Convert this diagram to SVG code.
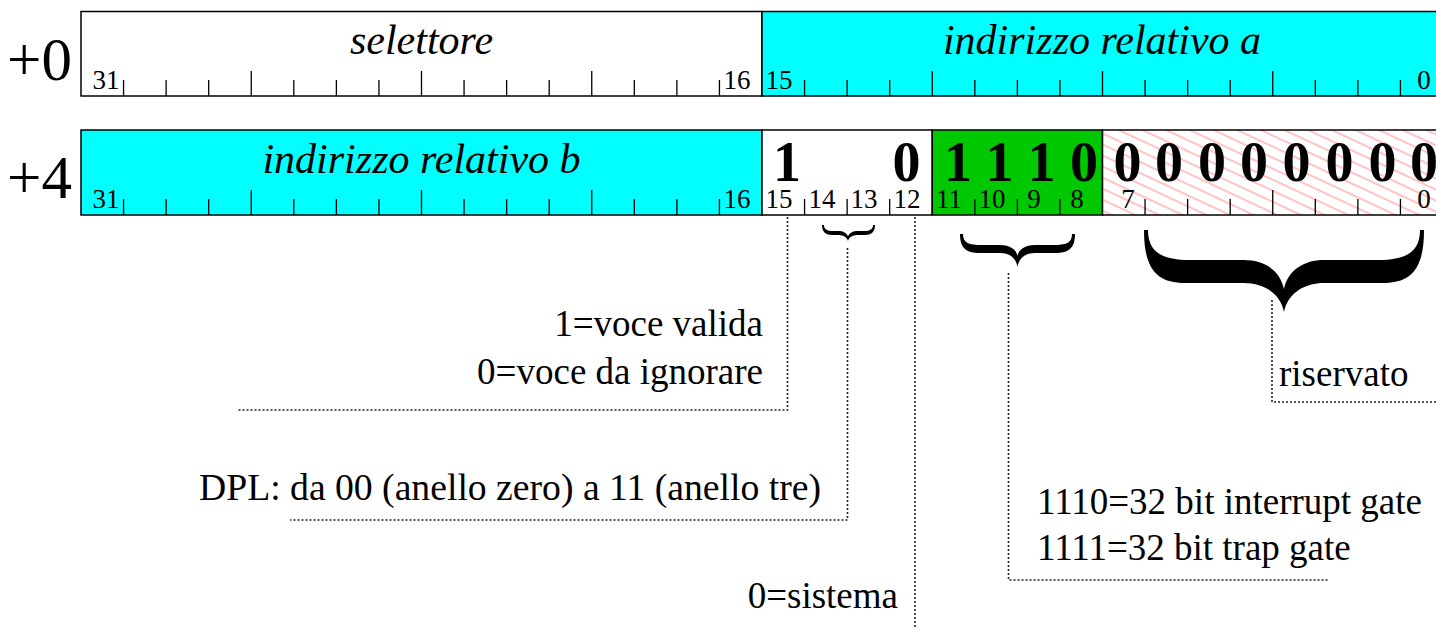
<svg xmlns="http://www.w3.org/2000/svg" width="1436" height="628" viewBox="0 0 1436 628">
<style>
.box{stroke:#000;stroke-width:1.5}
.tick{stroke:#000;stroke-width:1.3;fill:none}
.off{font-family:"Liberation Serif",serif;font-size:61px}
.fld{font-family:"Liberation Serif",serif;font-size:42px;font-style:italic;text-anchor:middle}
.bit{font-family:"Liberation Serif",serif;font-size:27px;text-anchor:middle}
.big{font-family:"Liberation Serif",serif;font-size:56px;font-weight:bold;text-anchor:middle}
.note{font-family:"Liberation Serif",serif;font-size:37px}
.r{text-anchor:end}
.lead{stroke:#222;stroke-width:1.6;stroke-dasharray:2 2;fill:none}
.brace{fill:#000}
</style>
<defs>
<pattern id="hatch" patternUnits="userSpaceOnUse" width="10" height="10" patternTransform="rotate(25)">
<rect width="10" height="10" fill="#fff"/>
<line x1="0" y1="5" x2="10" y2="5" stroke="#ff9a9a" stroke-width="1.2"/>
</pattern>
</defs>
<rect width="1436" height="628" fill="#fff"/>

<g id="row0">
<text class="off" x="7" y="80">+0</text>
<rect class="box" x="81" y="11.5" width="681" height="84.5" fill="#fff"/>
<rect class="box" x="762" y="11.5" width="681" height="84.5" fill="#00ffff"/>
<text class="fld" x="421.5" y="54">selettore</text>
<text class="fld" x="1102" y="54">indirizzo relativo a</text>
<path class="tick" d="M123.56 80V96M166.13 80V96M208.69 80V96M251.25 71V96M293.81 80V96M336.38 80V96M378.94 80V96M421.5 71V96M464.06 80V96M506.63 80V96M549.19 80V96M591.75 71V96M634.31 80V96M676.88 80V96M719.44 80V96M804.56 80V96M847.13 80V96M889.69 80V96M932.25 71V96M974.81 80V96M1017.38 80V96M1059.94 80V96M1102.5 71V96M1145.06 80V96M1187.63 80V96M1230.19 80V96M1272.75 71V96M1315.31 80V96M1357.88 80V96M1400.44 80V96"/>
<text class="bit" x="106" y="89">31</text>
<text class="bit" x="737" y="89">16</text>
<text class="bit" x="779" y="89">15</text>
<text class="bit" x="1424" y="89">0</text>
</g>

<g id="row4">
<text class="off" x="7" y="198">+4</text>
<rect class="box" x="81" y="130" width="681" height="85" fill="#00ffff"/>
<rect class="box" x="762" y="130" width="170.25" height="85" fill="#fff"/>
<rect class="box" x="932.25" y="130" width="170.25" height="85" fill="#00c800"/>
<rect class="box" x="1102.5" y="130" width="340.5" height="85" fill="url(#hatch)"/>
<text class="fld" x="421.5" y="173">indirizzo relativo b</text>
<path class="tick" d="M123.56 199V215M166.13 199V215M208.69 199V215M251.25 190V215M293.81 199V215M336.38 199V215M378.94 199V215M421.5 190V215M464.06 199V215M506.63 199V215M549.19 199V215M591.75 190V215M634.31 199V215M676.88 199V215M719.44 199V215M804.56 199V215M847.13 199V215M889.69 199V215M974.81 199V215M1017.38 199V215M1059.94 199V215M1145.06 199V215M1187.63 199V215M1230.19 199V215M1272.75 190V215M1315.31 199V215M1357.88 199V215M1400.44 199V215"/>
<text class="big" x="787" y="181">1</text>
<text class="big" x="906.5" y="181">0</text>
<text class="big" x="958" y="181">1</text>
<text class="big" x="999.5" y="181">1</text>
<text class="big" x="1041.5" y="181">1</text>
<text class="big" x="1084" y="181">0</text>
<text class="big" x="1127.5" y="181">0</text>
<text class="big" x="1169" y="181">0</text>
<text class="big" x="1212" y="181">0</text>
<text class="big" x="1254" y="181">0</text>
<text class="big" x="1296.5" y="181">0</text>
<text class="big" x="1339.5" y="181">0</text>
<text class="big" x="1382.5" y="181">0</text>
<text class="big" x="1424" y="181">0</text>
<text class="bit" x="106" y="208">31</text>
<text class="bit" x="737" y="208">16</text>
<text class="bit" x="779" y="208">15</text>
<text class="bit" x="822" y="208">14</text>
<text class="bit" x="864" y="208">13</text>
<text class="bit" x="907" y="208">12</text>
<text class="bit" x="949" y="208">11</text>
<text class="bit" x="992" y="208">10</text>
<text class="bit" x="1034" y="208">9</text>
<text class="bit" x="1077" y="208">8</text>
<text class="bit" x="1128" y="208">7</text>
<text class="bit" x="1424" y="208">0</text>
</g>

<g id="braces">
<path class="brace" d="M822 225C822 232 826 235 832 235L838 235C843 235 847 237 848 241C849 237 853 235 858 235L865 235C871 235 875 232 875 225L873 225C873 229 870 231 864 231L858 231C853 231 849 233 848 236.5C847 233 843 231 838 231L833 231C827 231 824 229 824 225Z"/>
<path class="brace" d="M960 234C960 248 966 253 980 253L1000 253C1010 253 1016 258 1017.5 267C1019 258 1025 253 1035 253L1055 253C1069 253 1075 248 1075 234L1072 234C1072 243 1066 245 1053 245L1035 245C1025 245 1019 249 1017.5 256C1016 249 1010 245 1000 245L982 245C969 245 963 243 963 234Z"/>
<path class="brace" d="M1144 230C1144 268 1156 283 1185 283L1244 283C1262 283 1280 292 1284 312C1288 292 1306 283 1324 283L1383 283C1412 283 1424 268 1424 230L1420 230C1420 252 1406 260 1378 260L1324 260C1304 260 1288 270 1284 289C1280 270 1264 260 1244 260L1190 260C1162 260 1148 252 1148 230Z"/>
</g>

<g id="connectors">
<path class="lead" d="M787.5 217V410H237"/>
<path class="lead" d="M847.5 248V520H290"/>
<path class="lead" d="M915 217V628"/>
<path class="lead" d="M1008.5 273V580H1328"/>
<path class="lead" d="M1272 300V402H1436"/>
</g>

<g id="notes">
<text class="note r" x="763" y="336">1=voce valida</text>
<text class="note r" x="763" y="384">0=voce da ignorare</text>
<text class="note r" x="821" y="500" textLength="622" lengthAdjust="spacingAndGlyphs">DPL: da 00 (anello zero) a 11 (anello tre)</text>
<text class="note r" x="898" y="608">0=sistema</text>
<text class="note" x="1037" y="514">1110=32 bit interrupt gate</text>
<text class="note" x="1037" y="560">1111=32 bit trap gate</text>
<text class="note" x="1279" y="386">riservato</text>
</g>
</svg>
